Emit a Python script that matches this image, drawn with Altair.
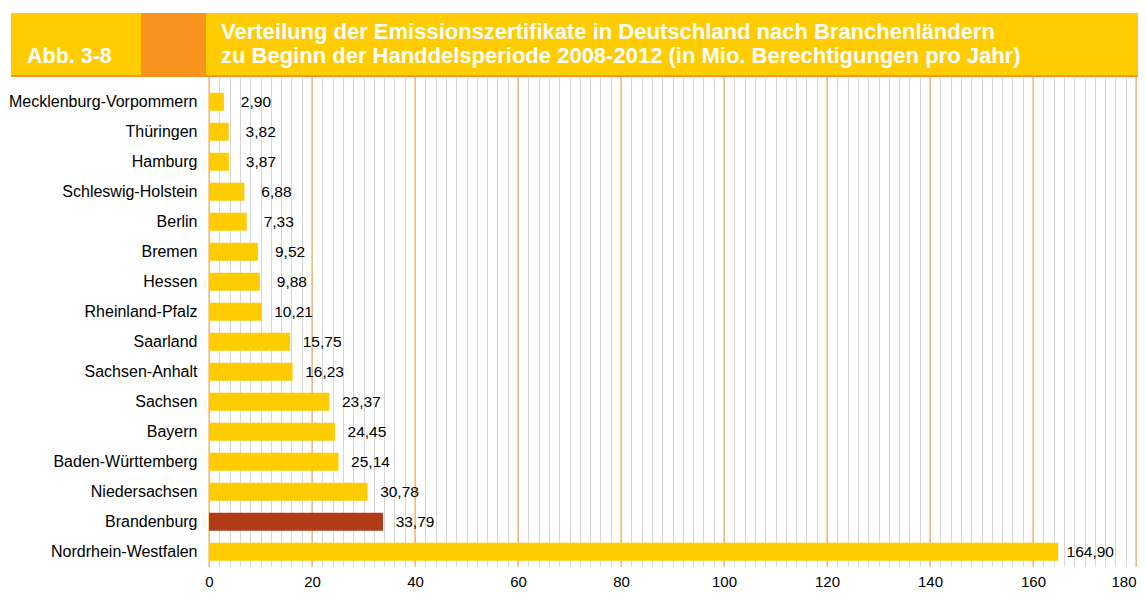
import altair as alt
import pandas as pd

# ---- data ----
states = ["Mecklenburg-Vorpommern", "Thüringen", "Hamburg", "Schleswig-Holstein",
          "Berlin", "Bremen", "Hessen", "Rheinland-Pfalz", "Saarland",
          "Sachsen-Anhalt", "Sachsen", "Bayern", "Baden-Württemberg",
          "Niedersachsen", "Brandenburg", "Nordrhein-Westfalen"]
values = [2.90, 3.82, 3.87, 6.88, 7.33, 9.52, 9.88, 10.21, 15.75, 16.23,
          23.37, 24.45, 25.14, 30.78, 33.79, 164.90]
highlight = "Brandenburg"
major_ticks = list(range(0, 181, 20))
minor_ticks = list(range(0, 181, 2))
fig_label = "Abb. 3-8"
title_lines = ["Verteilung der Emissionszertifikate in Deutschland nach Branchenländern",
               "zu Beginn der Handdelsperiode 2008-2012 (in Mio. Berechtigungen pro Jahr)"]

YELLOW = "#FFCC00"
ORANGE = "#F7941E"
DARK = "#B23B17"
FONT = "Liberation Sans"
W, H = 927, 489

df = pd.DataFrame({"state": states, "value": values})
ticks_df = pd.DataFrame({"tick": major_ticks})
one = pd.DataFrame({"k": [0]})

x_axis = alt.Axis(values=minor_ticks, grid=True, gridColor="#D6D6D6", gridWidth=1,
                  ticks=False, domain=False, title=None,
                  labelExpr="datum.value % 20 == 0 ? datum.label : ''",
                  labelFontSize=15, labelColor="#000000", labelFont=FONT,
                  labelPadding=8, labelOverlap=False,
                  labelAlign={"condition": {"test": "datum.value == 180", "value": "right"},
                              "value": "center"})
x_scale = alt.Scale(domain=[0, 180], nice=False, zero=True)
y_axis = alt.Axis(title=None, ticks=False, domain=False, grid=False, labelLimit=400,
                  labelPadding=12, labelFontSize=16, labelColor="#000000", labelFont=FONT)
y_scale = alt.Scale(paddingInner=0.4, paddingOuter=0.35, align=0.75)

rules = alt.Chart(ticks_df).mark_rule(color="#F6A23A", strokeWidth=1).encode(
    x=alt.X("tick:Q", scale=x_scale, axis=x_axis),
    y=alt.value(0), y2=alt.value(H + 1))

bars = alt.Chart(df).mark_bar().encode(
    x=alt.X("value:Q", scale=x_scale, axis=x_axis),
    y=alt.Y("state:N", sort=states, scale=y_scale, axis=y_axis),
    color=alt.condition(alt.datum.state == highlight, alt.value(DARK), alt.value(YELLOW)))

labels = alt.Chart(df).transform_calculate(
    label="replace(format(datum.value, '.2f'), '.', ',')"
).mark_text(align="center", baseline="middle", dx=32, fontSize=15.5, font=FONT,
            color="#000000").encode(
    x=alt.X("value:Q", scale=x_scale, axis=x_axis),
    y=alt.Y("state:N", sort=states, scale=y_scale, axis=y_axis),
    text="label:N")

def box(x1, x2, y1, y2, color):
    return alt.Chart(one).mark_rect(color=color).encode(
        x=alt.value(x1), x2=alt.value(x2), y=alt.value(y1), y2=alt.value(y2))

RIGHT = W + 2
hdr = [
    box(-198, -68, -64, 0, YELLOW),
    box(-68, -3, -64, 0, ORANGE),
    box(-3, RIGHT, -64, 0, YELLOW),
    box(-198, RIGHT, -2, 0, ORANGE),
    alt.Chart(one).mark_text(text=fig_label, align="left", baseline="alphabetic",
                             fontSize=21.5, fontWeight="bold", font=FONT, color="white"
                             ).encode(x=alt.value(-182), y=alt.value(-14)),
    alt.Chart(one).mark_text(text=title_lines[0], align="left", baseline="alphabetic",
                             fontSize=22, fontWeight="bold", font=FONT, color="white"
                             ).encode(x=alt.value(12), y=alt.value(-38)),
    alt.Chart(one).mark_text(text=title_lines[1], align="left", baseline="alphabetic",
                             fontSize=22, fontWeight="bold", font=FONT, color="white"
                             ).encode(x=alt.value(12), y=alt.value(-14)),
]

chart = alt.layer(rules, bars, labels, *hdr).properties(
    width=W, height=H,
    autosize=alt.AutoSizeParams(type="none"),
    padding={"left": 201, "top": 69, "right": 2, "bottom": 24},
    background="white",
).configure_view(stroke=None)

chart.save("out.html", embed_options={"renderer": "svg", "actions": False})
